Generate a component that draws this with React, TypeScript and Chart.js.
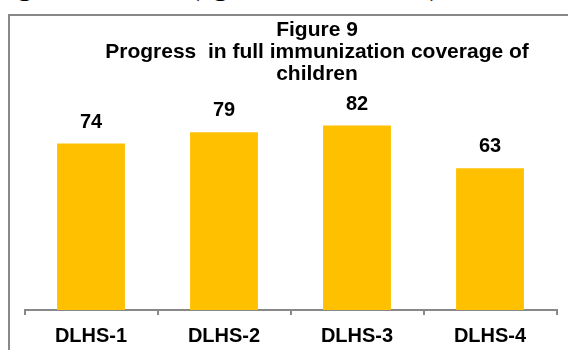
import React, { useEffect, useRef } from "react";
import { Chart, registerables } from "chart.js";

Chart.register(...registerables);

// Full immunization coverage of children, by survey round (%)
const categories = ["DLHS-1", "DLHS-2", "DLHS-3", "DLHS-4"];
const coverage = [74, 79, 82, 63];
const titleLines = ["Figure 9", "Progress  in full immunization coverage of", "children"];
const runningText = "high birth order (aged 12-23 months), in the state";

const FONT = '"Liberation Sans", Arial, Helvetica, sans-serif';

// Writes each bar's value just above it
const valueLabels = {
  id: "valueLabels",
  afterDatasetsDraw(chart: any) {
    const { ctx } = chart;
    const meta = chart.getDatasetMeta(0);
    const values = chart.data.datasets[0].data;
    ctx.save();
    ctx.font = `bold 20px ${FONT}`;
    ctx.fillStyle = "#000";
    ctx.textAlign = "center";
    ctx.textBaseline = "alphabetic";
    meta.data.forEach((bar: any, i: number) => {
      ctx.fillText(String(values[i]), bar.x, bar.y - 16);
    });
    ctx.restore();
  },
};

// Centred multi-line heading across the whole canvas width
const centredTitle = {
  id: "centredTitle",
  afterDraw(chart: any) {
    const { ctx, width } = chart;
    ctx.save();
    ctx.font = `bold 21px ${FONT}`;
    ctx.fillStyle = "#000";
    ctx.textAlign = "center";
    ctx.textBaseline = "middle";
    titleLines.forEach((line, i) => {
      ctx.fillText(line, width / 2, 14 + i * 22);
    });
    ctx.restore();
  },
};

export default function App() {
  const canvasRef = useRef<HTMLCanvasElement | null>(null);

  useEffect(() => {
    if (!canvasRef.current) return;
    const chart = new Chart(canvasRef.current, {
      type: "bar",
      data: {
        labels: categories,
        datasets: [
          {
            data: coverage,
            backgroundColor: "#FFC000",
            borderWidth: 0,
            categoryPercentage: 1,
            barPercentage: 0.51,
          },
        ],
      },
      options: {
        animation: false,
        responsive: false,
        devicePixelRatio: 1,
        layout: { padding: { left: 14.5, right: 67.5, top: 69, bottom: 7 } },
        plugins: {
          legend: { display: false },
          tooltip: { enabled: false },
          title: { display: false },
        },
        scales: {
          x: {
            grid: {
              drawOnChartArea: false,
              drawTicks: true,
              tickLength: 5,
              color: "#888",
              lineWidth: 2,
              offset: true,
            },
            border: { display: true, color: "#888", width: 2 },
            ticks: {
              color: "#000",
              padding: 9.5,
              font: { family: FONT, size: 20, weight: "bold", lineHeight: 1.2 },
            },
          },
          y: {
            display: false,
            min: 0,
            max: 100,
          },
        },
      },
      plugins: [valueLabels, centredTitle],
    });
    return () => chart.destroy();
  }, []);

  return (
    <div style={{ position: "fixed", inset: 0, overflow: "hidden", background: "#fff" }}>
      <div
        style={{
          position: "absolute",
          left: -6,
          top: -30,
          fontFamily: '"Liberation Serif", "Times New Roman", serif',
          fontSize: 30,
          lineHeight: "30px",
          whiteSpace: "nowrap",
          color: "#000",
        }}
      >
        {runningText}
      </div>
      <div
        style={{
          position: "absolute",
          left: 8,
          top: 14,
          width: 614,
          height: 400,
          border: "2px solid #888",
          background: "#fff",
        }}
      >
        <canvas ref={canvasRef} width={614} height={349} style={{ display: "block" }} />
      </div>
    </div>
  );
}
